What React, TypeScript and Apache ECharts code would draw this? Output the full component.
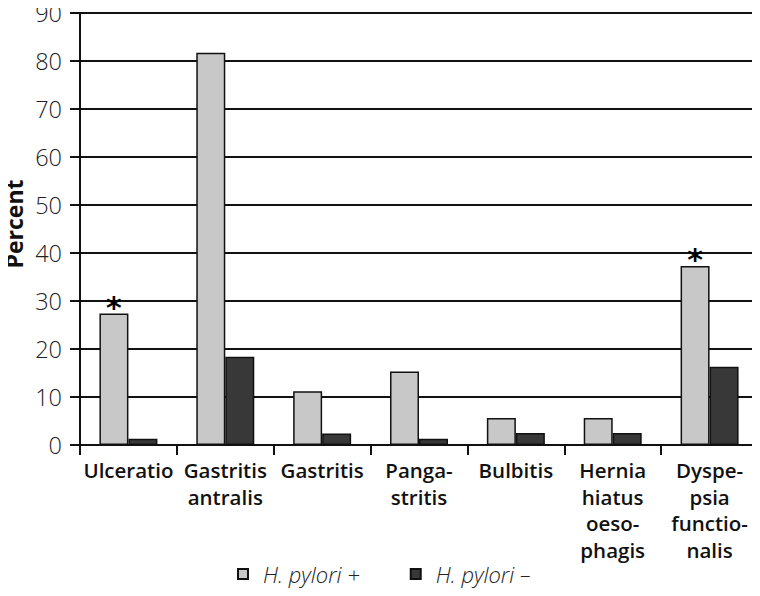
import React, { useEffect, useRef } from "react";
import * as echarts from "echarts";

const categories = [
  "Ulceratio",
  "Gastritis\nantralis",
  "Gastritis",
  "Panga-\nstritis",
  "Bulbitis",
  "Hernia\nhiatus\noeso-\nphagis",
  "Dyspe-\npsia\nfunctio-\nnalis",
];
const positiveValues = [27.4, 81.7, 11.2, 15.3, 5.6, 5.6, 37.3];
const negativeValues = [1.3, 18.4, 2.4, 1.3, 2.5, 2.5, 16.3];
const significant = [true, false, false, false, false, false, true];
const yTicks = { min: 0, max: 90, interval: 10 };
const seriesNames = ["H. pylori +", "H. pylori \u2013"];
const yAxisTitle = "Percent";

const FONT = "'Open Sans', 'Noto Sans', sans-serif";

export default function App() {
  const ref = useRef<HTMLDivElement>(null);
  useEffect(() => {
    if (!ref.current) return;
    const chart = echarts.init(ref.current, null, { renderer: "svg" });
    const lightData = positiveValues.map((v, i) =>
      significant[i]
        ? {
            value: v,
            label: {
              show: true,
              position: "top",
              distance: -9,
              formatter: "*",
              fontSize: 30,
              fontWeight: "bold",
              color: "#000",
              fontFamily: "'DejaVu Sans', sans-serif",
            },
          }
        : v
    );
    chart.setOption({
      animation: false,
      backgroundColor: "#ffffff",
      grid: {
        left: 80,
        right: 2,
        top: 13,
        bottom: 151,
        containLabel: false,
        outerBoundsMode: "none",
      },
      graphic: [
        {
          type: "text",
          x: 14,
          y: 224,
          rotation: Math.PI / 2,
          style: {
            text: yAxisTitle,
            fontFamily: FONT,
            fontWeight: "bold",
            fontSize: 23,
            fill: "#111",
            align: "center",
            verticalAlign: "middle",
          },
        },
      ],
      legend: {
        bottom: 6,
        left: 232,
        itemWidth: 10,
        itemHeight: 10,
        itemGap: 50,
        icon: "rect",
        textStyle: {
          fontFamily: FONT,
          fontStyle: "italic",
          fontWeight: 300,
          fontSize: 22,
          color: "#222",
          padding: [0, 0, 0, 10],
        },
        data: seriesNames,
      },
      xAxis: {
        type: "category",
        data: categories,
        axisLine: { lineStyle: { color: "#111", width: 2 } },
        axisTick: { show: true, length: 10, interval: 0, lineStyle: { color: "#111", width: 2 } },
        axisLabel: {
          interval: 0,
          margin: 12,
          fontFamily: FONT,
          fontWeight: 600,
          fontSize: 20.5,
          lineHeight: 26.5,
          color: "#111",
          align: "center",
        },
      },
      yAxis: [
        {
          type: "value",
          min: yTicks.min,
          max: yTicks.max,
          interval: yTicks.interval,
          axisLine: { show: true, lineStyle: { color: "#111", width: 2 } },
          axisTick: { show: true, length: 10, lineStyle: { color: "#111", width: 2 } },
          axisLabel: {
            margin: 18,
            fontFamily: FONT,
            fontWeight: 300,
            fontSize: 23.5,
            lineHeight: 20,
            color: "#222",
          },
          splitLine: { show: true, lineStyle: { color: "#111", width: 2 } },
        },
        {
          type: "value",
          position: "right",
          min: yTicks.min,
          max: yTicks.max,
          interval: yTicks.interval,
          axisLine: { show: true, lineStyle: { color: "#111", width: 2 } },
          axisTick: { show: false },
          axisLabel: { show: false },
          splitLine: { show: false },
        },
      ],
      series: [
        {
          name: seriesNames[0],
          type: "bar",
          data: lightData,
          barWidth: 29,
          barGap: "0%",
          itemStyle: { color: "#c8c8c8", borderColor: "#111", borderWidth: 1.5 },
        },
        {
          name: seriesNames[1],
          type: "bar",
          data: negativeValues,
          barWidth: 29,
          barGap: "0%",
          itemStyle: { color: "#383838", borderColor: "#111", borderWidth: 1.5 },
        },
      ],
    });
    return () => chart.dispose();
  }, []);
  return <div ref={ref} style={{ width: 760, height: 596, marginLeft: -8, marginTop: -8 }} />;
}
